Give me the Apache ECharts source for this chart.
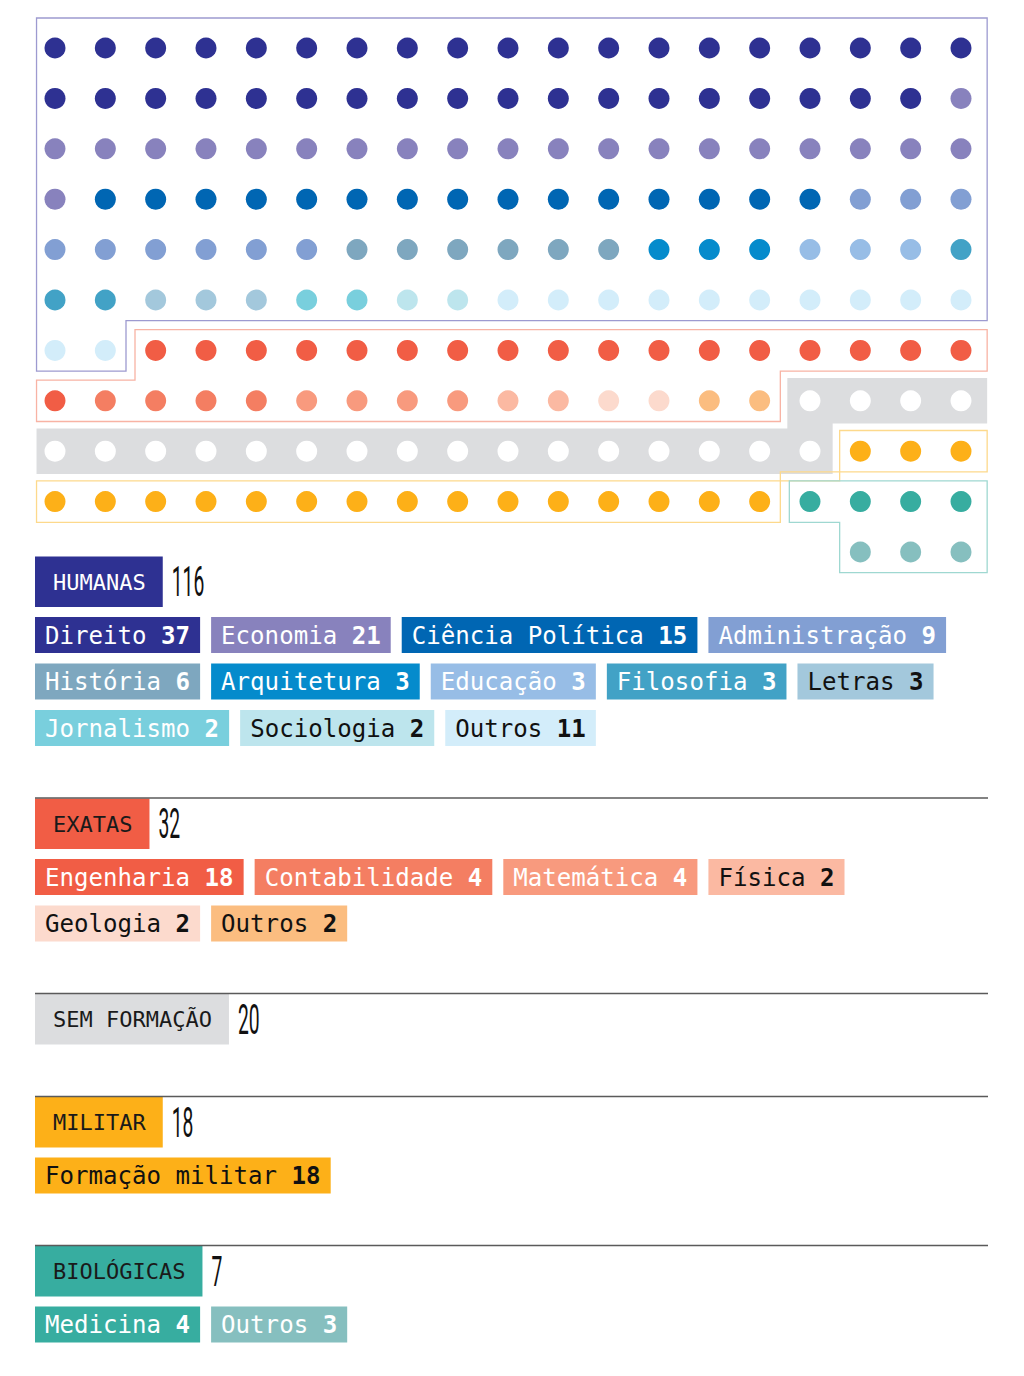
<!DOCTYPE html>
<html>
<head>
<meta charset="utf-8">
<script src="https://cdn.jsdelivr.net/npm/echarts@6/dist/echarts.min.js"></script>
<style>
html,body{margin:0;padding:0;background:#fff;}
#chart{width:1024px;height:1376px;}
</style>
</head>
<body>
<div id="chart"></div>
<script>
// ---------------- DATA ----------------
const groupNames   = ['HUMANAS', 'EXATAS', 'SEM FORMAÇÃO', 'MILITAR', 'BIOLÓGICAS'];
const groupTotals  = [116, 32, 20, 18, 7];
const groupColors  = ['#2e3192', '#f15d45', '#dcdddf', '#fdb018', '#37ada0'];
const groupHeadTxt = ['#ffffff', '#1a1a1a', '#1a1a1a', '#1a1a1a', '#1a1a1a'];
const groupOutline = ['#9d9ad0', '#f8b3a4', null, '#fdd98c', '#9fd8d1'];
const groupDotDefault = [null, null, '#ffffff', null, null];

const humanasNames  = ['Direito', 'Economia', 'Ciência Política', 'Administração', 'História', 'Arquitetura', 'Educação', 'Filosofia', 'Letras', 'Jornalismo', 'Sociologia', 'Outros'];
const humanasValues = [37, 21, 15, 9, 6, 3, 3, 3, 3, 2, 2, 11];
const humanasColors = ['#2e3192', '#8882bd', '#0066b3', '#829fd3', '#7ea7bf', '#058bcc', '#97bde6', '#42a2c6', '#a3c8dc', '#79cfdd', '#bde5ed', '#d3edfa'];
const humanasText   = ['#fff', '#fff', '#fff', '#fff', '#fff', '#fff', '#fff', '#fff', '#111', '#fff', '#111', '#111'];

const exatasNames  = ['Engenharia', 'Contabilidade', 'Matemática', 'Física', 'Geologia', 'Outros'];
const exatasValues = [18, 4, 4, 2, 2, 2];
const exatasColors = ['#f15d45', '#f47e62', '#f89a7e', '#fbb9a2', '#fcdacd', '#fbbd80'];
const exatasText   = ['#fff', '#fff', '#fff', '#111', '#111', '#111'];

const semNames = [], semValues = [], semColors = [], semText = [];

const militarNames  = ['Formação militar'];
const militarValues = [18];
const militarColors = ['#fdb018'];
const militarText   = ['#111'];

const bioNames  = ['Medicina', 'Outros'];
const bioValues = [4, 3];
const bioColors = ['#37ada0', '#86bfbf'];
const bioText   = ['#fff', '#fff'];

const subNames  = [humanasNames, exatasNames, semNames, militarNames, bioNames];
const subValues = [humanasValues, exatasValues, semValues, militarValues, bioValues];
const subColors = [humanasColors, exatasColors, semColors, militarColors, bioColors];
const subText   = [humanasText, exatasText, semText, militarText, bioText];

// ---------------- DOT LAYOUT ----------------
const COLS = 19;
const N = groupTotals.reduce((a, b) => a + b, 0);
const fullRows = Math.floor(N / COLS);
const rem = N % COLS;
const ROWS = fullRows + (rem ? 1 : 0);
function cellOf(i) {
  const r = Math.floor(i / COLS);
  let c = i % COLS;
  if (r === fullRows) c += COLS - rem;
  return [c, r];
}
const dotData = [];
const groupCells = [];
let idx = 0;
groupTotals.forEach((tot, g) => {
  const cols = [];
  subValues[g].forEach((v, k) => { for (let j = 0; j < v; j++) cols.push(subColors[g][k]); });
  const pad = groupDotDefault[g] || subColors[g][subColors[g].length - 1] || groupColors[g];
  while (cols.length < tot) cols.push(pad);
  const cells = [];
  for (let j = 0; j < tot; j++) {
    const cell = cellOf(idx++);
    cells.push(cell);
    dotData.push({ value: cell, itemStyle: { color: cols[j], opacity: 1 } });
  }
  groupCells.push(cells);
});

function groupPolygon(cells) {
  const rows = {};
  cells.forEach(([c, r]) => {
    if (!rows[r]) rows[r] = [c, c];
    rows[r][0] = Math.min(rows[r][0], c);
    rows[r][1] = Math.max(rows[r][1], c);
  });
  const rs = Object.keys(rows).map(Number).sort((a, b) => a - b);
  let pts = [[rows[rs[0]][0] - 0.5, rs[0] - 0.5]];
  rs.forEach(r => { pts.push([rows[r][1] + 0.5, r - 0.5]); pts.push([rows[r][1] + 0.5, r + 0.5]); });
  for (let k = rs.length - 1; k >= 0; k--) { const r = rs[k]; pts.push([rows[r][0] - 0.5, r + 0.5]); pts.push([rows[r][0] - 0.5, r - 0.5]); }
  let out = [];
  pts.forEach(p => { const q = out[out.length - 1]; if (!q || q[0] !== p[0] || q[1] !== p[1]) out.push(p); });
  if (out.length > 1) { const a = out[0], b = out[out.length - 1]; if (a[0] === b[0] && a[1] === b[1]) out.pop(); }
  let changed = true;
  while (changed) {
    changed = false;
    for (let i = 0; i < out.length; i++) {
      const p = out[(i - 1 + out.length) % out.length], q = out[i], s = out[(i + 1) % out.length];
      if ((p[0] === q[0] && q[0] === s[0]) || (p[1] === q[1] && q[1] === s[1])) { out.splice(i, 1); changed = true; break; }
    }
  }
  return out;
}
const groupPolys = groupCells.map(groupPolygon);

function insetPoly(api, poly, pads) {
  const px = poly.map(p => api.coord(p));
  const n = poly.length;
  const edgePad = [], normals = [];
  for (let i = 0; i < n; i++) {
    const a = poly[i], b = poly[(i + 1) % n];
    const A = px[i], B = px[(i + 1) % n];
    const dx = B[0] - A[0], dy = B[1] - A[1];
    const len = Math.hypot(dx, dy) || 1;
    normals.push([-dy / len, dx / len]);
    let p = pads.d;
    if (a[0] === b[0] && a[0] === -0.5) p = pads.l;
    else if (a[0] === b[0] && a[0] === COLS - 0.5) p = pads.r;
    else if (a[1] === b[1] && a[1] === -0.5) p = pads.t;
    edgePad.push(p);
  }
  return px.map((P, i) => {
    const j = (i - 1 + n) % n;
    return [P[0] + edgePad[j] * normals[j][0] + edgePad[i] * normals[i][0],
            P[1] + edgePad[j] * normals[j][1] + edgePad[i] * normals[i][1]];
  });
}

// ---------------- LEGEND GRAPHICS ----------------
const MONO = '"DejaVu Sans Mono", monospace';
const CHIP_FS = 24.1, CHIP_ADV = CHIP_FS * 0.6021;
const HEAD_FS = 22, HEAD_ADV = HEAD_FS * 0.6021;
const LEFT = 35, RIGHT = 988;
const graphics = [];
let y = 556;
groupNames.forEach((name, g) => {
  if (g > 0) {
    graphics.push({ type: 'line', shape: { x1: LEFT, y1: y, x2: RIGHT, y2: y }, style: { stroke: '#5a5a5a', lineWidth: 1.3 }, z: 10 });
  }
  const hw = name.length * HEAD_ADV + 35;
  graphics.push({ type: 'rect', shape: { x: LEFT, y: y + 0.5, width: hw, height: 50.5 }, style: { fill: groupColors[g] } });
  graphics.push({ type: 'text', x: LEFT + 18, y: y + 26, style: { text: name, fill: groupHeadTxt[g], font: '500 ' + HEAD_FS + 'px ' + MONO, align: 'left', verticalAlign: 'middle' } });
  graphics.push({ type: 'text', x: LEFT + hw + 9, y: y + 26, scaleX: 0.46, style: { text: String(groupTotals[g]), fill: '#111', fontFamily: 'Roboto', fontWeight: 'normal', fontSize: 42, align: 'left', verticalAlign: 'middle' } });
  y += 51;
  const names = subNames[g];
  if (names.length) {
    y += 10;
    let x = LEFT, rowY = y;
    names.forEach((nm, k) => {
      const label = nm + ' ' + subValues[g][k];
      const w = label.length * CHIP_ADV + 20;
      if (x + w > RIGHT + 1) { x = LEFT; rowY += 46.5; }
      graphics.push({ type: 'rect', shape: { x: x, y: rowY, width: w, height: 36 }, style: { fill: subColors[g][k] } });
      graphics.push({ type: 'text', x: x + 10, y: rowY + 18.5, style: {
        text: '{n|' + nm + ' }{b|' + subValues[g][k] + '}',
        align: 'left', verticalAlign: 'middle',
        rich: {
          n: { fontFamily: MONO, fontSize: CHIP_FS, fontWeight: 'normal', fill: subText[g][k] },
          b: { fontFamily: MONO, fontSize: CHIP_FS, fontWeight: 'bold', fill: subText[g][k] }
        }
      } });
      x += w + 11;
    });
    y = rowY + 36;
  }
  y += 52;
});

// ---------------- CHART ----------------
const chart = echarts.init(document.getElementById('chart'), null, { renderer: 'svg' });
const cellW = 50.333, cellH = 50.4;
chart.setOption({
  animation: false,
  backgroundColor: '#ffffff',
  grid: { left: 55 - cellW / 2, top: 48 - cellH / 2, width: cellW * COLS, height: cellH * ROWS },
  xAxis: { type: 'value', min: -0.5, max: COLS - 0.5, show: false },
  yAxis: { type: 'value', min: -0.5, max: ROWS - 0.5, inverse: true, show: false },
  series: [
    {
      type: 'custom',
      clip: false,
      z: 1,
      silent: true,
      data: groupNames.map((n, i) => [i, 0]),
      renderItem: function (params, api) {
        const g = params.dataIndex;
        const poly = groupPolys[g];
        if (!groupOutline[g]) {
          const pts = insetPoly(api, poly, { d: 2.5, l: 6.7, r: -1, t: -4.8 });
          return { type: 'polygon', shape: { points: pts }, style: { fill: groupColors[g], stroke: null } };
        }
        const pts = insetPoly(api, poly, { d: 4.5, l: 6.7, r: -1, t: -4.8 });
        return { type: 'polygon', shape: { points: pts }, style: { fill: 'none', stroke: groupOutline[g], lineWidth: 1.3 } };
      }
    },
    {
      type: 'scatter',
      z: 3,
      symbol: 'circle',
      symbolSize: 21,
      silent: true,
      itemStyle: { opacity: 1 },
      data: dotData
    }
  ],
  graphic: { elements: graphics }
});
</script>
</body>
</html>
